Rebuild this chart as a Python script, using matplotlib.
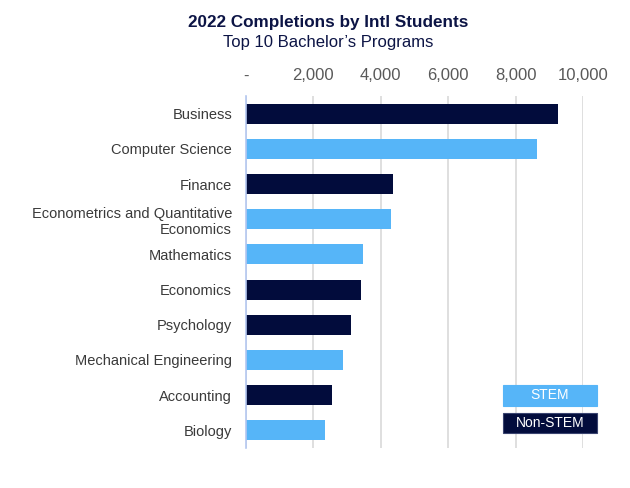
import matplotlib
matplotlib.use("Agg")
import matplotlib.pyplot as plt
from matplotlib.patches import Rectangle
from matplotlib.ticker import FuncFormatter

plt.rcParams['font.family'] = ['Liberation Sans', 'DejaVu Sans']

programs = ["Business", "Computer Science", "Finance",
            "Econometrics and Quantitative\nEconomics", "Mathematics", "Economics",
            "Psychology", "Mechanical Engineering", "Accounting", "Biology"]
completions = [9260, 8640, 4350, 4300, 3470, 3410, 3110, 2870, 2550, 2330]
is_stem = [False, True, False, True, True, False, False, True, False, True]
xticks = [0, 2000, 4000, 6000, 8000, 10000]

NAVY = "#020c3c"
BLUE = "#56b5f8"
colors = [BLUE if s else NAVY for s in is_stem]

fig = plt.figure(figsize=(6.3, 4.88), dpi=100)
ax = fig.add_axes([246/630, 1-448/488, (583-246)/630, (448-96)/488])

ypos = list(range(len(programs)))
ax.barh(ypos, completions, height=0.57, color=colors, zorder=3)
ax.set_ylim(len(programs)-0.5, -0.5)
ax.set_xlim(0, 10000)
ax.set_yticks(ypos)
ax.set_yticklabels(programs, fontsize=10.5, color="#3a3a3a")
ax.set_xticks(xticks)
ax.xaxis.set_major_formatter(FuncFormatter(lambda v, p: "-" if v == 0 else f"{int(v):,}"))
ax.xaxis.tick_top()
ax.tick_params(axis='x', length=0, labelsize=12, labelcolor="#595959", pad=9)
ax.tick_params(axis='y', length=0, pad=10)
ax.grid(axis='x', color="#d9d9d9", linewidth=1.2, zorder=0)
for s in ["top", "right", "bottom"]:
    ax.spines[s].set_visible(False)
ax.spines["left"].set_color("#b4c7f0")
ax.spines["left"].set_linewidth(1.2)
ax.spines["left"].set_zorder(4)

fig.text(328/630, 1-22.5/488, "2022 Completions by Intl Students", ha="center", va="center",
         fontsize=12.3, fontweight="bold", color="#0c1445")
fig.text(328/630, 1-42.5/488, "Top 10 Bachelor\u2019s Programs", ha="center", va="center",
         fontsize=12, color="#0c1445")

# legend boxes
for (label, col, y0, y1) in [("STEM", BLUE, 385, 405.5), ("Non-STEM", NAVY, 413, 433)]:
    fig.patches.append(Rectangle((503/630, 1-y1/488), (597-503)/630, (y1-y0)/488,
                                 transform=fig.transFigure, facecolor=col,
                                 edgecolor="#3a4470" if col == NAVY else col, linewidth=0.8))
    fig.text(550/630, 1-(y0+y1)/2/488, label, ha="center", va="center", fontsize=10, color="white")

fig.savefig("out.png", dpi=100)
